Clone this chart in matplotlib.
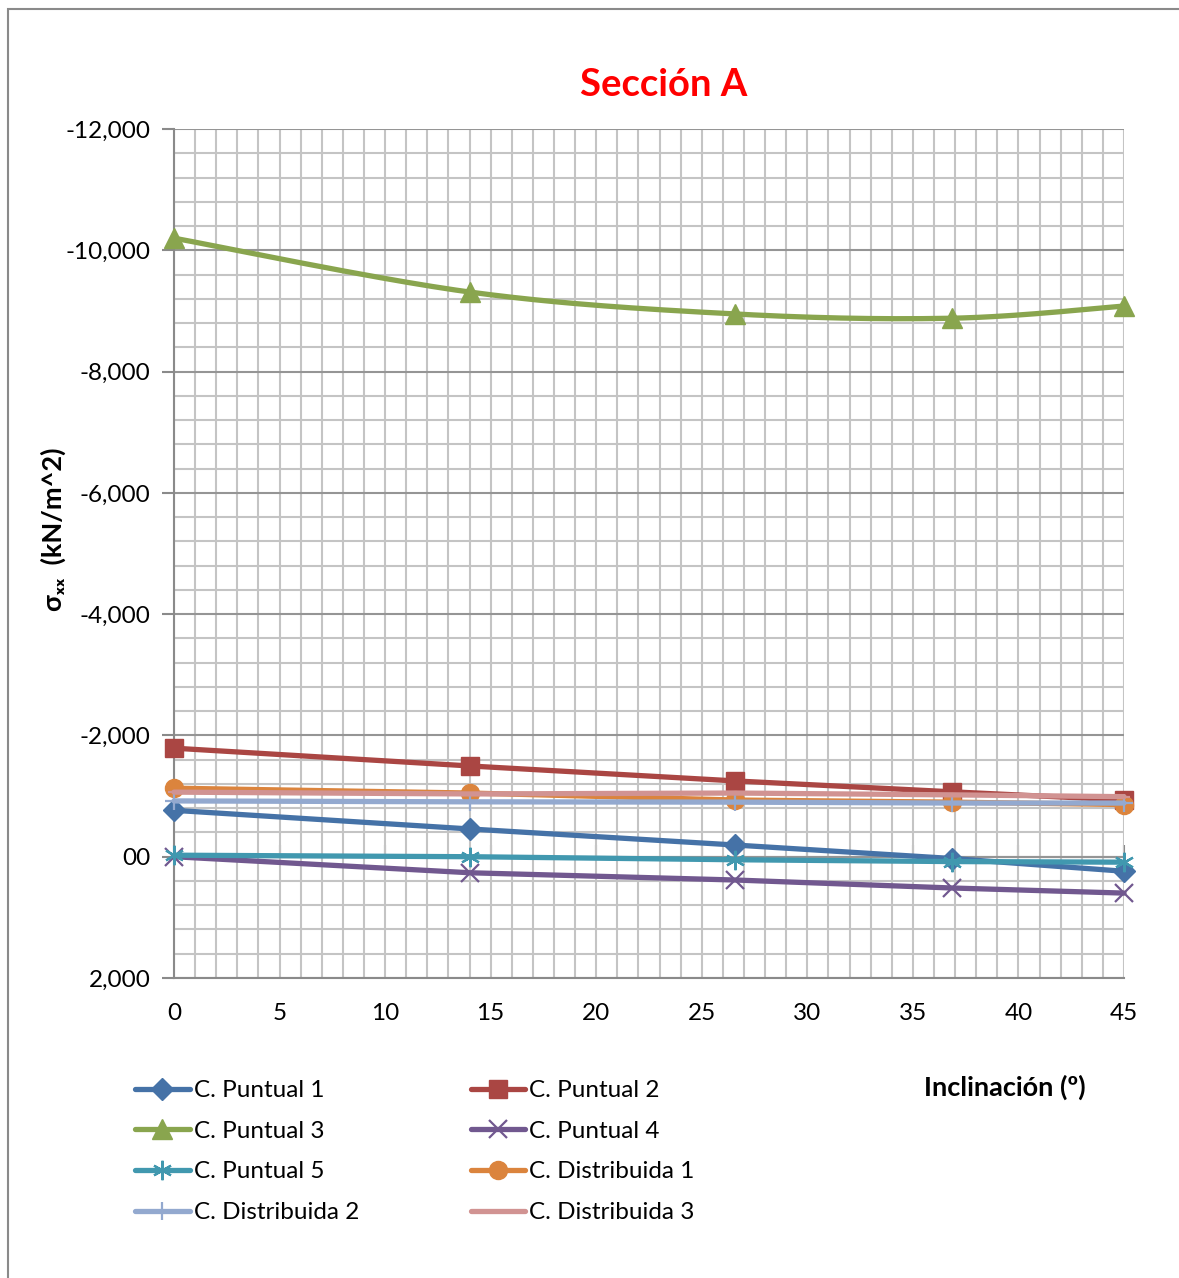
import numpy as np
import matplotlib
matplotlib.use("Agg")
import matplotlib.pyplot as plt
from matplotlib.ticker import MultipleLocator, FuncFormatter
from matplotlib.patches import Rectangle

plt.rcParams['font.family'] = ['Lato', 'DejaVu Sans']

# Inclination angles (degrees)
inclinacion = [0, 14.04, 26.57, 36.87, 45]

# sigma_xx values (kN/m^2) for each load case
puntual_1 = [-765, -457, -193, 30, 240]
puntual_2 = [-1790, -1496, -1250, -1070, -935]
puntual_3 = [-10200, -9310, -8950, -8880, -9080]
puntual_4 = [0, 265, 384, 516, 600]
puntual_5 = [-25, 0, 50, 80, 90]
distribuida_1 = [-1130, -1050, -935, -900, -860]
distribuida_2 = [-920, -905, -900, -885, -885]
distribuida_3 = [-1065, -1035, -1050, -1020, -990]

series_names = ["C. Puntual 1", "C. Puntual 2", "C. Puntual 3", "C. Puntual 4",
                "C. Puntual 5", "C. Distribuida 1", "C. Distribuida 2", "C. Distribuida 3"]
series_values = [puntual_1, puntual_2, puntual_3, puntual_4,
                 puntual_5, distribuida_1, distribuida_2, distribuida_3]
smoothed = [False, False, True, False, False, False, False, False]

colors = ["#4572A7", "#AA4643", "#89A54E", "#71588F",
          "#4198AF", "#DB843D", "#93A9CF", "#D19392"]
markers = ["D", "s", "^", "x", (6, 2, 0), "o", "+", "_"]
msizes = [11, 13, 14, 13, 14, 13, 13, 8]
mews = [1, 1, 1, 1.6, 1.6, 1, 1.6, 1.6]

FS = 17.5
FS_TITLE_AXIS = 19.5


def smooth_curve(x, y, n=40):
    """Bezier smoothing through the points (Catmull-Rom style, tension 1/6)."""
    x = np.asarray(x, float)
    y = np.asarray(y, float)
    px = np.concatenate([[x[0]], x, [x[-1]]])
    py = np.concatenate([[y[0]], y, [y[-1]]])
    xs, ys = [], []
    t = np.linspace(0, 1, n)
    for i in range(1, len(px) - 2):
        p0 = np.array([px[i], py[i]])
        p3 = np.array([px[i + 1], py[i + 1]])
        p1 = p0 + (np.array([px[i + 1], py[i + 1]]) - np.array([px[i - 1], py[i - 1]])) / 6
        p2 = p3 - (np.array([px[i + 2], py[i + 2]]) - np.array([px[i], py[i]])) / 6
        b = ((1 - t) ** 3)[:, None] * p0 + (3 * (1 - t) ** 2 * t)[:, None] * p1 \
            + (3 * (1 - t) * t ** 2)[:, None] * p2 + (t ** 3)[:, None] * p3
        xs.extend(b[:, 0])
        ys.extend(b[:, 1])
    return xs, ys


W, H = 1179, 1278
fig = plt.figure(figsize=(W / 100, H / 100), dpi=100)
fig.patch.set_facecolor("white")

# chart area border
fig.patches.append(Rectangle((8 / W, -0.05), 1.2, 1 - 9 / H + 0.05,
                             transform=fig.transFigure, fill=False,
                             edgecolor="#8a8a8a", linewidth=1.5))

ax = fig.add_axes([174 / W, 1 - 978 / H, (1124 - 174) / W, (978 - 129) / H])
ax.set_xlim(0, 45)
ax.set_ylim(2000, -12000)

ax.xaxis.set_major_locator(MultipleLocator(5))
ax.xaxis.set_minor_locator(MultipleLocator(1))
ax.yaxis.set_major_locator(MultipleLocator(2000))
ax.yaxis.set_minor_locator(MultipleLocator(400))

ax.grid(which="minor", axis="both", color="#c4c4c4", linewidth=1.5, zorder=0)
ax.grid(which="major", axis="x", color="#c4c4c4", linewidth=1.5, zorder=0)
ax.grid(which="major", axis="y", color="#959595", linewidth=1.5, zorder=0)
ax.set_axisbelow(True)

ax.yaxis.set_major_formatter(FuncFormatter(lambda v, p: "00" if v == 0 else f"{v:,.0f}"))
ax.tick_params(axis="y", which="major", length=9, width=1.5, color="#8a8a8a",
               pad=8, labelsize=FS)
ax.tick_params(axis="y", which="minor", length=0)
ax.tick_params(axis="x", which="both", length=0, pad=18, labelsize=FS)

for s in ["top", "right"]:
    ax.spines[s].set_visible(False)
for s in ["left", "bottom"]:
    ax.spines[s].set_color("#8a8a8a")
    ax.spines[s].set_linewidth(1.5)

# horizontal axis crossing at zero
ylo, yhi = ax.get_ylim()
zero_frac = (0 - ylo) / (yhi - ylo)
sec = ax.secondary_xaxis(zero_frac)
sec.xaxis.set_major_locator(MultipleLocator(5))
sec.tick_params(axis="x", direction="in", length=9, width=1.5, color="#8a8a8a",
                labelbottom=False, labeltop=False)
for s in sec.spines.values():
    s.set_color("#8a8a8a")
    s.set_linewidth(1.5)

handles = []
for name, vals, c, m, ms, mew, sm in zip(series_names, series_values, colors,
                                         markers, msizes, mews, smoothed):
    if sm:
        xs, ys = smooth_curve(inclinacion, vals)
        ax.plot(xs, ys, color=c, linewidth=3.8, solid_capstyle="round", zorder=3)
        ax.plot(inclinacion, vals, linestyle="none", marker=m, markersize=ms,
                color=c, markeredgewidth=mew, zorder=3, clip_on=False)
    else:
        ax.plot(inclinacion, vals, color=c, linewidth=3.8, marker=m, markersize=ms,
                markeredgewidth=mew, solid_capstyle="round", zorder=3, clip_on=False)
    h, = plt.plot([], [], color=c, linewidth=3.8, marker=m, markersize=ms,
                  markeredgewidth=mew, solid_capstyle="round", label=name)
    handles.append(h)

# legend filled row by row
order = [0, 2, 4, 6, 1, 3, 5, 7]
fig.legend([handles[i] for i in order], [series_names[i] for i in order],
           loc="upper left", bbox_to_anchor=(135 / W, 1 - 1080 / H), ncol=2,
           frameon=False, fontsize=FS, handlelength=2.26, handletextpad=0.16,
           columnspacing=4.58, labelspacing=0.81, numpoints=1, borderpad=0,
           borderaxespad=0)

fig.text(664 / W, 1 - 85 / H, "Sección A", color="#FF0000", fontsize=27.5,
         fontweight="bold", ha="center", va="center")
fig.text(53 / W, 1 - 529 / H, "σₓₓ  (kN/m^2)", rotation=90, fontsize=FS_TITLE_AXIS,
         fontweight="bold", ha="center", va="center")
fig.text(1005 / W, 1 - 1087 / H, "Inclinación (º)", fontsize=FS_TITLE_AXIS,
         fontweight="bold", ha="center", va="center")

fig.savefig("out.png", dpi=100, facecolor="white")
